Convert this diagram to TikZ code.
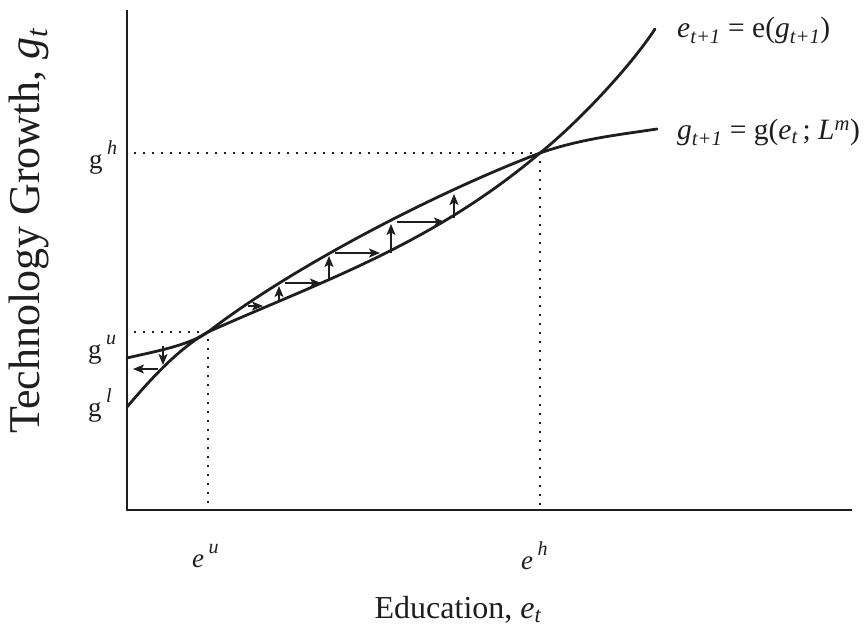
\documentclass[tikz,border=0pt]{standalone}
\usepackage{fontspec}
\setmainfont{Liberation Serif}
\usetikzlibrary{arrows.meta, positioning, calc}
\definecolor{inkblack}{RGB}{30,30,30}
\newcommand{\hiidx}[1]{\raisebox{0.5em}{\fontsize{20}{22}\selectfont\itshape #1}}

\begin{document}
\begin{tikzpicture}[
    x=1pt, y=-1pt,
    % Global Styles
    every node/.style={text=inkblack, inner sep=0pt},
    % Line Styles
    axisline/.style={inkblack, line width=1.4pt},
    curveline/.style={inkblack, line width=2.8pt, line cap=round},
    guideline/.style={inkblack, line width=1.6pt, dash pattern=on 1.6pt off 7.4pt},
    flow/.style={
        -{Stealth[length=11pt, width=9pt, inset=2.5pt]},
        inkblack,
        line width=1.4pt
    },
    % Node Styles
    ticklabel/.style={font=\fontsize{27}{30}\selectfont, anchor=base west},
    axislabel/.style={font=\fontsize{32}{36}\selectfont, anchor=base},
    curvelabel/.style={font=\fontsize{29.5}{34}\selectfont, anchor=base west}
]
    \useasboundingbox (0,0) rectangle (866,639);

    % --- Key points ---
    \coordinate (O) at (127,510);
    \coordinate (top) at (127,10);
    \coordinate (xend) at (852,510);
    \coordinate (gl) at (127,407);
    \coordinate (gu0) at (127,358);
    \coordinate (U) at (208,332);
    \coordinate (H) at (540,153);
    \coordinate (eend) at (655,29);
    \coordinate (gend) at (657,129);

    % --- Axes ---
    \draw[axisline] (top) -- (gu0);
    \draw[axisline] (O) -- (xend);
    \draw[curveline] (gu0) -- (O);

    % --- Dotted guides ---
    \draw[guideline] ($(U -| O)+(7,0)$) -- (U) -- ($(U |- O)+(0,-3)$);
    \draw[guideline] ($(H -| O)+(7,0)$) -- (H) -- ($(H |- O)+(0,-3)$);

    % --- The two loci ---
    \draw[curveline] (gu0) .. controls (152,352) and (188,346) .. (U)
        .. controls (288,270) and (430,195) .. (H)
        .. controls (580,139) and (617,135) .. (gend);
    \draw[curveline] (gl) .. controls (154,375) and (181,347) .. (U)
        .. controls (318,282.5) and (430,246) .. (H)
        .. controls (575,125) and (628,70) .. (eend);

    % --- Dynamics ---
    \draw[flow] (163,346) -- (163,365);
    \draw[flow] (158,369) -- (133,369);
    \foreach \xa/\xb/\y in {248/263/306, 285/321/283, 335/380/253, 397/445/222}
        \draw[flow] (\xa,\y) -- (\xb,\y);
    \foreach \x/\ya/\yb in {279/302/286, 329/279/256, 391/253/224, 454/218/194}
        \draw[flow] (\x,\ya) -- (\x,\yb);

    % --- Tick labels ---
    \node[ticklabel] (ghlab) at (89,168) {g\,\hiidx{h}};
    \node[ticklabel] (gulab) at (88,358) {g\,\hiidx{u}};
    \node[ticklabel] (gllab) at (88,416) {g\,\hiidx{l}};
    \node[ticklabel] (eulab) at (192,567) {\textit{e}\,\hiidx{u}};
    \node[ticklabel] (ehlab) at (521,569) {\textit{e}\,\hiidx{h}};

    % --- Axis labels ---
    \node[axislabel] (xlab) at (458,618) {Education, \textit{e}\textsubscript{\itshape t}};
    \node[axislabel, font=\fontsize{44}{50}\selectfont, rotate=90] (ylab) at (39,231)
        {Technology Growth, \textit{g}\textsubscript{\itshape t}};

    % --- Curve labels ---
    \node[curvelabel] (elab) at (677,38)
        {\textit{e}\textsubscript{\itshape t+1} = e(\textit{g}\textsubscript{\itshape t+1})};
    \node[curvelabel] (glab) at (677,140)
        {\textit{g}\textsubscript{\itshape t+1} = g(\textit{e}\textsubscript{\itshape t}\,; \textit{L}\textsuperscript{\itshape m})};

\end{tikzpicture}
\end{document}
